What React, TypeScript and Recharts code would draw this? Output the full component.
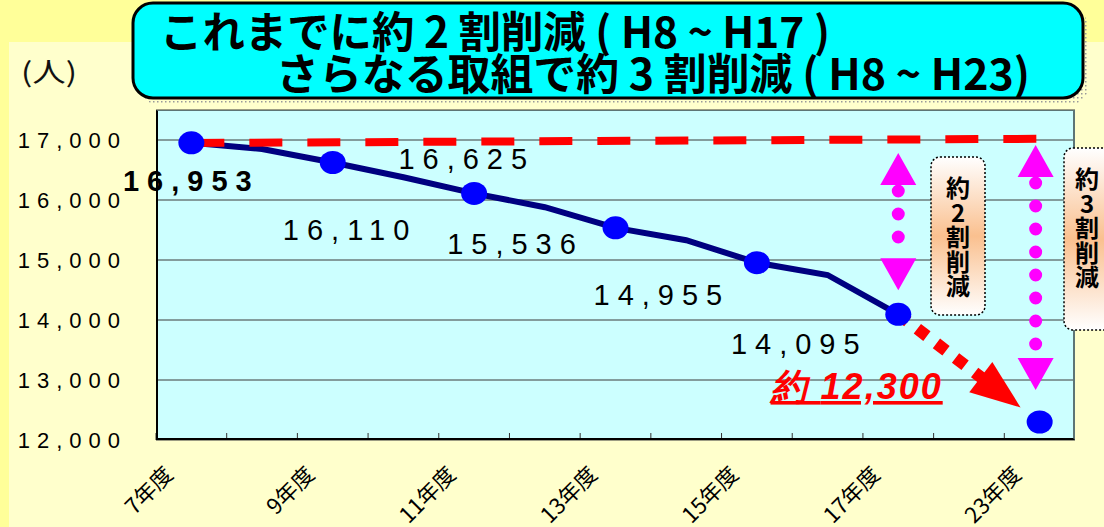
// 職員数の推移（H7〜H23）: recharts で再現
import React from "react";
import { ComposedChart, Line, XAxis, YAxis, CartesianGrid, ReferenceLine } from "recharts";

const YEARS = ["7年度", "8年度", "9年度", "10年度", "11年度", "12年度", "13年度", "14年度", "15年度", "16年度", "17年度", "", "23年度"];
const STAFF = [16953, 16850, 16625, 16380, 16110, 15880, 15536, 15330, 14955, 14750, 14095, null, 12300];
const TARGET = [16950, null, null, null, null, null, null, null, null, null, null, null, 17020];
const Y_TICKS = [12000, 13000, 14000, 15000, 16000, 17000];
const BASE = 17000;

const data = YEARS.map((year, i) => ({ year, staff: STAFF[i], target: TARGET[i] }));

const W = 1104;
const H = 527;
const PLOT_W = 919;
const BAND = PLOT_W / YEARS.length;
const NUM = "'Liberation Sans', Arial, sans-serif";
const JP = "'Noto Sans CJK JP', sans-serif";

// 値ラベルのずれ（元資料の配置そのまま）
const LABEL_POS: Record<number, [number, number]> = {
  0: [-4, 37], 2: [130, -5], 4: [-128, 36], 6: [-104, 15], 8: [-99, 31], 10: [-103, 29],
};

const fmt = (v: number) => v.toLocaleString("en-US");

function renderDot(p: any) {
  const { cx, cy, index, value } = p;
  if (value == null || cx == null || cy == null || index % 2 === 1) return <g key={`d${index}`} />;
  const off = LABEL_POS[index];
  return (
    <g key={`d${index}`}>
      <ellipse cx={cx} cy={cy} rx={13} ry={11.5} fill="#0000FF" />
      {off && (
        <text x={cx + off[0] + 4} y={cy + off[1] + 11} textAnchor="middle" fontFamily={NUM} fontSize={29}
              fontWeight={index === 0 ? 700 : 400} letterSpacing={8} fill="#000">{fmt(value)}</text>
      )}
      {index === YEARS.length - 1 && (
        <text x={cx - 183} y={cy - 23} textAnchor="middle" fontFamily={NUM} fontSize={36} fontWeight={700}
              fontStyle="italic" letterSpacing={2} fill="#FF0000" style={{ textDecoration: "underline" }}>約 {fmt(value)}</text>
      )}
    </g>
  );
}

function XTick(p: any) {
  const { x, y, index, payload } = p;
  return (
    <g>
      <line x1={x - BAND / 2} y1={y} x2={x - BAND / 2} y2={y - 7} stroke="#333" strokeWidth={1} />
      {index % 2 === 0 && (
        <text transform={`translate(${x - 17},${y + 36}) rotate(-45)`} textAnchor="end" fontFamily={JP}
              fontSize={22} fill="#000">{payload.value}</text>
      )}
    </g>
  );
}

function YTick(p: any) {
  const { x, y, payload } = p;
  return (
    <text x={x - 29} y={y + 8} textAnchor="end" fontFamily={NUM} fontSize={22} letterSpacing={7} fill="#000">
      {fmt(payload.value)}
    </text>
  );
}

function magentaArrow(p: any, inTop: number, inBot: number, dx = 0) {
  const x = p.x1 + dx;
  const top = Math.min(p.y1, p.y2) + inTop;
  const bot = Math.max(p.y1, p.y2) - inBot;
  return (
    <g>
      <polygon points={`${x},${top} ${x - 18},${top + 32} ${x + 18},${top + 32}`} fill="#FF00FF" />
      <polygon points={`${x},${bot} ${x - 18},${bot - 32} ${x + 18},${bot - 32}`} fill="#FF00FF" />
      <line x1={x} y1={top + 38} x2={x} y2={bot - 40} stroke="#FF00FF" strokeWidth={13}
            strokeLinecap="round" strokeDasharray="0 23" />
    </g>
  );
}

function redArrow(p: any) {
  const { x1, y1, x2, y2 } = p;
  const len = Math.hypot(x2 - x1, y2 - y1);
  const ux = (x2 - x1) / len, uy = (y2 - y1) / len;
  const tx = x2 - ux * 24, ty = y2 - uy * 24;
  const bx = tx - ux * 50, by = ty - uy * 50;
  const nx = -uy, ny = ux;
  return (
    <g>
      <line x1={x1} y1={y1} x2={bx + ux * 4} y2={by + uy * 4} stroke="#FF0000" strokeWidth={12} strokeDasharray="12 12" />
      <polygon points={`${tx},${ty} ${bx + nx * 19},${by + ny * 19} ${bx - nx * 19},${by - ny * 19}`} fill="#FF0000" />
    </g>
  );
}

function Callout({ x, y, w, h, cx, chars, id }: { x: number; y: number; w: number; h: number; cx: number; chars: string[]; id: string }) {
  return (
    <g>
      <defs>
        <linearGradient id={id} x1="0" y1="0" x2="0" y2="1">
          <stop offset="0%" stopColor="#FFFFFF" />
          <stop offset="50%" stopColor="#FAC08F" />
          <stop offset="100%" stopColor="#FFFFFF" />
        </linearGradient>
      </defs>
      <rect x={x} y={y} width={w} height={h} rx={9} fill={`url(#${id})`} stroke="#000" strokeWidth={1.5} strokeDasharray="2 2" />
      {chars.map((c, i) => (
        <text key={i} x={cx} y={y + 40 + i * 24.5} textAnchor="middle" fontFamily={JP} fontWeight={700} fontSize={24} fill="#000">{c}</text>
      ))}
    </g>
  );
}

export default function App() {
  return (
    <div style={{ position: "absolute", left: 0, top: 0, width: W, height: H, background: "#FFFF99", overflow: "hidden" }}>
      <div style={{ position: "absolute", left: 9, top: 42, right: 0, bottom: 0, background: "#FFFFCC" }} />
      <div style={{ position: "absolute", left: 0, top: 0 }}>
        <ComposedChart width={W} height={H} data={data} margin={{ top: 110, right: 29, bottom: 0, left: 8 }}>
          <CartesianGrid vertical={false} stroke="#3a3a3a" fill="#CCFFFF" fillOpacity={1} />
          <XAxis dataKey="year" scale="band" interval={0} height={87} axisLine={false} tickLine={false}
                 tickSize={0} tickMargin={0} tick={<XTick />} />
          <YAxis domain={[12000, 17500]} ticks={Y_TICKS} width={148} axisLine={false} tickLine={false}
                 tickSize={0} tickMargin={0} tick={<YTick />} allowDataOverflow />
          <Line dataKey="staff" stroke="#000080" strokeWidth={6} dot={renderDot} activeDot={false}
                connectNulls={false} isAnimationActive={false} />
          <Line dataKey="target" stroke="#FF0000" strokeWidth={8} strokeDasharray="33 25" dot={false}
                activeDot={false} connectNulls isAnimationActive={false} />
          <ReferenceLine segment={[{ x: YEARS[10], y: STAFF[10] as number }, { x: YEARS[12], y: STAFF[12] as number }]}
                         shape={redArrow} ifOverflow="visible" />
          <ReferenceLine segment={[{ x: YEARS[10], y: BASE }, { x: YEARS[10], y: STAFF[10] as number }]}
                         shape={(p: any) => magentaArrow(p, 13, 24)} ifOverflow="visible" />
          <ReferenceLine segment={[{ x: YEARS[12], y: BASE }, { x: YEARS[12], y: STAFF[12] as number }]}
                         shape={(p: any) => magentaArrow(p, 5, 32, -4)} ifOverflow="visible" />
        </ComposedChart>
      </div>
      {/* 枠線 */}
      <div style={{ position: "absolute", left: 156, top: 110, width: 919, height: 330, boxSizing: "border-box",
                    borderTop: "1px solid #5d7575", borderRight: "2px solid #5d7575",
                    borderBottom: "2px solid #000", borderLeft: "2px solid #000" }} />
      <svg width={W} height={H} style={{ position: "absolute", left: 0, top: 0 }}>
        <defs>
          <pattern id="dots" width="4" height="4" patternUnits="userSpaceOnUse">
            <rect x="1" y="1" width="1.5" height="1.5" fill="#9a9a9a" />
          </pattern>
        </defs>
        <rect x={139} y={9} width={950} height={96} rx={20} fill="url(#dots)" />
        <rect x={133} y={3} width={950} height={95} rx={20} fill="#00FFFF" stroke="#000" strokeWidth={3} />
        <text x={160} y={48} fontFamily={JP} fontWeight={700} fontSize={43} textLength={670}
              lengthAdjust="spacingAndGlyphs" fill="#000">これまでに約 2 割削減 ( H8 ~ H17 )</text>
        <text x={276} y={90} fontFamily={JP} fontWeight={700} fontSize={43} textLength={754}
              lengthAdjust="spacingAndGlyphs" fill="#000">さらなる取組で約 3 割削減 ( H8 ~ H23)</text>
        <text x={21} y={82} fontFamily={JP} fontSize={27} textLength={56} lengthAdjust="spacingAndGlyphs" fill="#111">(人)</text>
        <Callout id="g1" x={931} y={157} w={54} h={158} cx={958} chars={["約", "2", "割", "削", "減"]} />
        <Callout id="g2" x={1064} y={148} w={60} h={182} cx={1087} chars={["約", "3", "割", "削", "減"]} />
      </svg>
    </div>
  );
}
